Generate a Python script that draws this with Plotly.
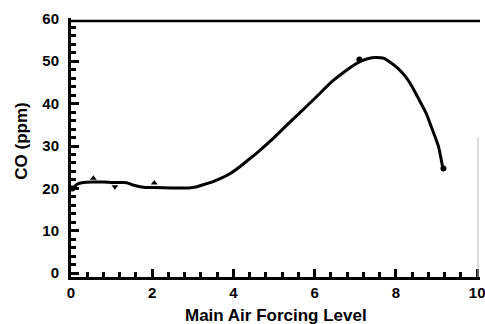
import plotly.graph_objects as go

# Data
forcing_level = [0.05, 0.15, 0.3, 0.55, 0.8, 1.05, 1.3, 1.42, 1.52, 1.7, 1.85, 2.05, 2.5, 2.9,
                 3.1, 3.3, 3.5, 3.7, 3.9, 4.1, 4.4, 4.65, 5.0, 5.3, 5.65, 6.0, 6.45,
                 6.8, 7.0, 7.15, 7.3, 7.5, 7.7, 7.85, 8.05, 8.25, 8.4, 8.55, 8.75, 8.9, 9.05, 9.15]
co_ppm = [20.0, 21.0, 21.4, 21.5, 21.5, 21.4, 21.4, 21.2, 20.8, 20.4, 20.2, 20.2, 20.1, 20.1,
          20.4, 21.0, 21.6, 22.4, 23.4, 24.7, 27.0, 29.0, 32.0, 34.8, 38.0, 41.2, 45.4,
          48.0, 49.3, 50.1, 50.6, 50.9, 50.7, 49.8, 48.3, 46.2, 44.0, 41.3, 37.6, 33.8, 29.8, 25.0]

pt_up_x = [0.55, 2.05]
pt_up_y = [22.4, 21.3]
pt_down_x = [1.08]
pt_down_y = [20.4]
pt_dot_x = [0.03, 7.1, 9.17]
pt_dot_y = [20.0, 50.4, 24.7]

x_ticks = [0, 2, 4, 6, 8, 10]
y_ticks = [0, 10, 20, 30, 40, 50, 60]

fig = go.Figure()
fig.add_trace(go.Scatter(x=forcing_level, y=co_ppm, mode="lines",
                         line=dict(color="black", width=3, shape="spline", smoothing=0.6),
                         showlegend=False))
fig.add_trace(go.Scatter(x=pt_up_x, y=pt_up_y, mode="markers",
                         marker=dict(symbol="triangle-up", size=6, color="black"),
                         showlegend=False))
fig.add_trace(go.Scatter(x=pt_down_x, y=pt_down_y, mode="markers",
                         marker=dict(symbol="triangle-down", size=6, color="black"),
                         showlegend=False))
fig.add_trace(go.Scatter(x=pt_dot_x, y=pt_dot_y, mode="markers",
                         marker=dict(symbol="circle", size=6, color="black"),
                         showlegend=False))

font_main = "Liberation Sans, Arial, sans-serif"

fig.update_xaxes(range=[0, 10.07], tickvals=x_ticks, ticks="inside", ticklen=8,
                 tickwidth=3, tickcolor="black", showline=True, linewidth=3,
                 linecolor="black", showgrid=False, zeroline=False,
                 ticklabeloverflow="allow",
                 tickfont=dict(family=font_main, size=15, color="black", weight="bold"),
                 minor=dict(dtick=0.4, tick0=0, ticks="inside", ticklen=5,
                            tickwidth=3, tickcolor="black", showgrid=False))
fig.update_yaxes(range=[-0.9, 60.2], tickvals=y_ticks, ticks="inside", ticklen=8,
                 tickwidth=3, tickcolor="black", showline=True, linewidth=3,
                 linecolor="black", showgrid=False, zeroline=False,
                 ticklabelstandoff=6, ticklabeloverflow="allow",
                 tickfont=dict(family=font_main, size=15, color="black", weight="bold"),
                 minor=dict(dtick=2, tick0=0, ticks="inside", ticklen=5,
                            tickwidth=3, tickcolor="black", showgrid=False))

# top frame line and faint right edge
fig.add_shape(type="line", xref="paper", yref="y", x0=0, x1=1, y0=59.5, y1=59.5,
              line=dict(color="black", width=2.5))
fig.add_shape(type="line", xref="x", yref="y", x0=10.02, x1=10.02, y0=-0.9, y1=32,
              line=dict(color="#bbbbbb", width=1))

fig.add_annotation(text="Main Air Forcing Level", xref="paper", yref="paper",
                   x=0.502, y=-0.147, yanchor="middle", xanchor="center", showarrow=False,
                   font=dict(family=font_main, size=17, color="black", weight="bold"))
fig.add_annotation(text="CO (ppm)", xref="paper", yref="paper",
                   x=-0.123, y=0.525, textangle=-90, xanchor="center", yanchor="middle",
                   showarrow=False,
                   font=dict(family=font_main, size=17, color="black", weight="bold"))

fig.update_layout(width=485, height=324, margin=dict(l=71, r=0, t=18, b=47),
                  plot_bgcolor="white", paper_bgcolor="white")

fig.write_html("out.html")
